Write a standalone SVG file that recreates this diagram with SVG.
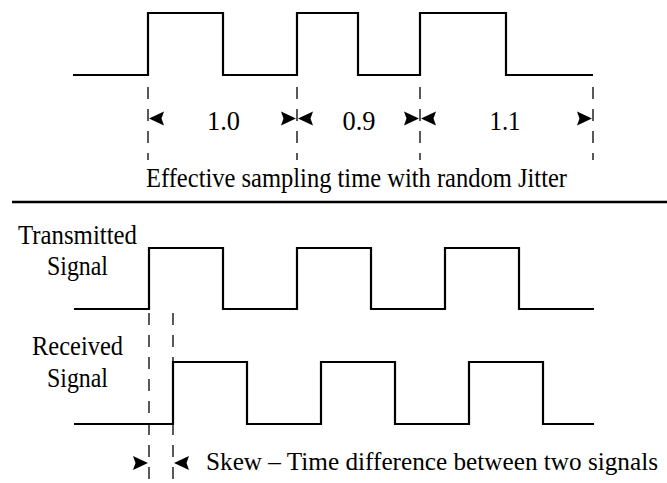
<svg xmlns="http://www.w3.org/2000/svg" width="667" height="483" viewBox="0 0 667 483">
<defs>
<style>
.wave{fill:none;stroke:#000;stroke-width:2.2;stroke-linejoin:miter}
.dash{fill:none;stroke:#000;stroke-width:1.3;stroke-dasharray:12 10}
.sep{stroke:#000;stroke-width:2.5}
text{font-family:'Liberation Serif','DejaVu Serif','Times New Roman',serif;fill:#000}
.t{font-size:27px}
.num{font-size:28px;text-anchor:middle}
.ah{fill:#000}
</style>
<path id="arrL" d="M0,0 L15,-7 L12.5,0 L15,7 Z"/>
<path id="arrR" d="M0,0 L-15,-7 L-12.5,0 L-15,7 Z"/>
</defs>
<rect width="667" height="483" fill="#fff"/>

<g id="jitter-wave">
<path class="wave" d="M73,75 H148 V13 H223 V75 H297 V13 H358 V75 H420 V13 H506 V75 H593"/>
</g>

<g id="connectors">
<line class="dash" x1="148" y1="87" x2="148" y2="160"/>
<line class="dash" x1="297" y1="87" x2="297" y2="160"/>
<line class="dash" x1="420" y1="87" x2="420" y2="160"/>
<line class="dash" x1="593" y1="87" x2="593" y2="160"/>
<use class="ah" href="#arrL" x="149" y="118.5"/>
<use class="ah" href="#arrR" x="296" y="118.5"/>
<use class="ah" href="#arrL" x="298" y="118.5"/>
<use class="ah" href="#arrR" x="419" y="118.5"/>
<use class="ah" href="#arrL" x="421" y="118.5"/>
<use class="ah" href="#arrR" x="592" y="118.5"/>
<line class="dash" x1="149" y1="313" x2="149" y2="483"/>
<line class="dash" x1="173" y1="313" x2="173" y2="483"/>
<use class="ah" href="#arrR" x="148" y="463"/>
<use class="ah" href="#arrL" x="174" y="463"/>
</g>

<g id="jitter-labels">
<text class="num" x="223.5" y="130" textLength="33" lengthAdjust="spacingAndGlyphs">1.0</text>
<text class="num" x="359" y="130" textLength="33" lengthAdjust="spacingAndGlyphs">0.9</text>
<text class="num" x="505" y="130" textLength="31" lengthAdjust="spacingAndGlyphs">1.1</text>
<text class="t" x="146" y="187" textLength="421" lengthAdjust="spacingAndGlyphs">Effective sampling time with random Jitter</text>
</g>

<g id="separator">
<line class="sep" x1="12" y1="202" x2="667" y2="202"/>
</g>

<g id="transmitted">
<text class="t" x="18" y="244" textLength="119" lengthAdjust="spacingAndGlyphs">Transmitted</text>
<text class="t" x="47" y="275" textLength="61" lengthAdjust="spacingAndGlyphs">Signal</text>
<path class="wave" d="M74,309 H149 V248 H223 V309 H297 V248 H371 V309 H445 V248 H519 V309 H594"/>
</g>

<g id="received">
<text class="t" x="32" y="355" textLength="91" lengthAdjust="spacingAndGlyphs">Received</text>
<text class="t" x="47" y="387" textLength="61" lengthAdjust="spacingAndGlyphs">Signal</text>
<path class="wave" d="M74,424 H173 V362 H247 V424 H321 V362 H395 V424 H469 V362 H543 V424 H594"/>
</g>

<g id="skew-label">
<text class="t" x="206" y="470" style="font-size:25px" textLength="452" lengthAdjust="spacingAndGlyphs">Skew – Time difference between two signals</text>
</g>
</svg>
